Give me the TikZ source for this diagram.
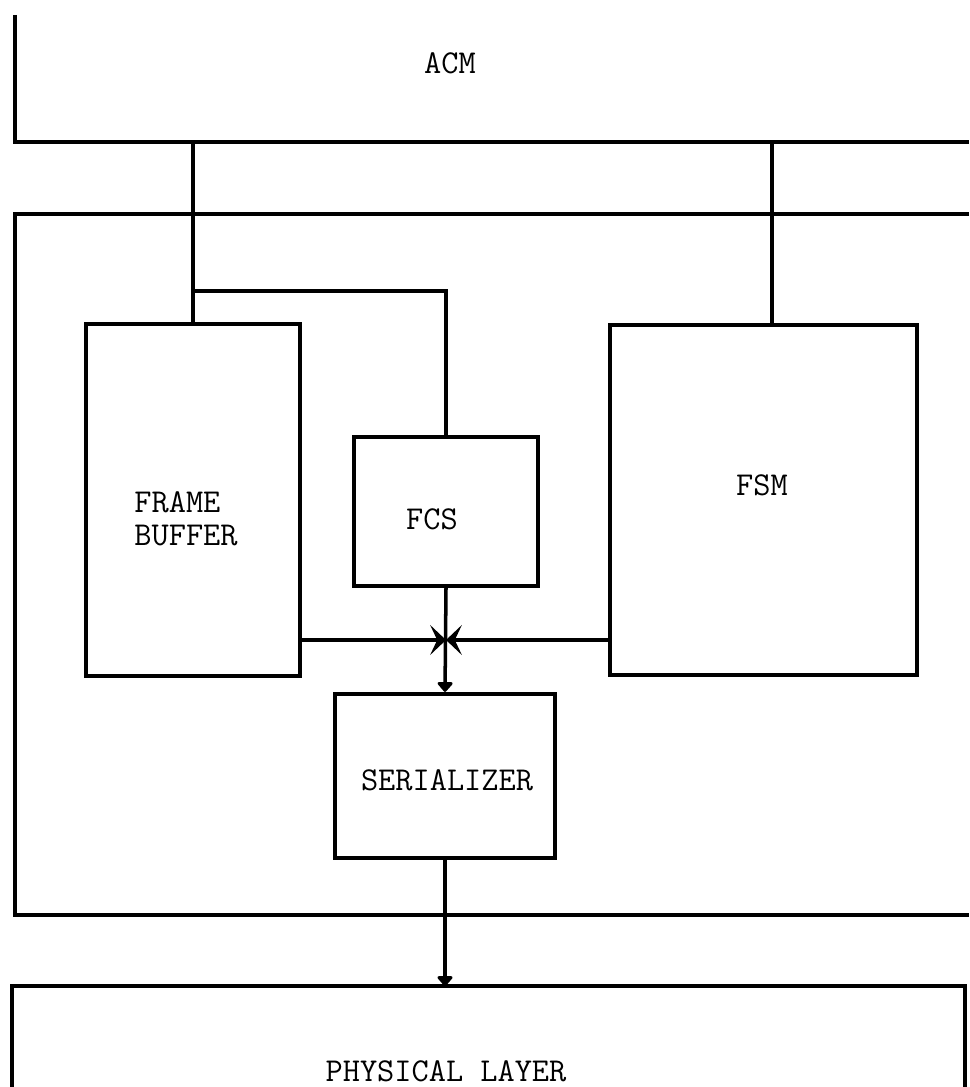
\documentclass[tikz,border=0pt]{standalone}
\usepackage{fontspec}
\usetikzlibrary{arrows.meta}

\begin{document}
\begin{tikzpicture}[x=0.02cm, y=-0.02cm,
    box/.style={draw, rectangle, line width=2.4pt, inner sep=0pt},
    layer/.style={line width=2.4pt},
    tag/.style={font=\ttfamily\fontsize{19}{18.5}\selectfont, align=left, inner sep=0pt},
    wire/.style={line width=2pt},
    blob/.style={wire, -{Triangle[round, length=6pt, width=10pt]}},
    bow/.style={wire, -{Stealth[length=9pt, width=17pt, inset=4pt]}}
  ]
  \useasboundingbox (0,0) rectangle (969,1087);

  % layers
  \draw[layer] (15,15) -- (15,142) -- (969,142);
  \draw[layer] (969,214) -- (15,214) -- (15,915) -- (969,915);
  \draw[layer] (12,1087) -- (12,986) -- (965,986) -- (965,1087);
  \node[tag] (acm) at (450,63) {ACM};
  \node[tag] (phy) at (446,1071) {PHYSICAL LAYER};

  % blocks
  \node[box, minimum width=4.28cm, minimum height=7.04cm] (fb) at (193,500) {};
  \node[box, minimum width=3.68cm, minimum height=2.98cm] (fcs) at (446,511.5) {};
  \node[box, minimum width=6.14cm, minimum height=7cm] (fsm) at (763.5,500) {};
  \node[box, minimum width=4.4cm, minimum height=3.28cm] (ser) at (445,776) {};

  \node[tag] (fbtext) at (186,519) {FRAME\\BUFFER};
  \node[tag] (fcstext) at (432,519) {FCS};
  \node[tag] (fsmtext) at (762,485) {FSM};
  \node[tag] (sertext) at (447,780) {SERIALIZER};

  % connectors
  \coordinate (acmfb) at (fb.north |- 0,142);
  \coordinate (acmfsm) at (772,142);
  \coordinate (split) at (fb.north |- 0,291);
  \coordinate (jn) at (fcs.south |- 0,640);
  \coordinate (phys) at (ser.south |- 0,986);

  \draw[wire] (acmfb) -- (fb.north);
  \draw[wire] (split) -| (fcs.north);
  \draw[wire] (acmfsm) -- (acmfsm |- fsm.north);
  \draw[blob] (fcs.south) -- (ser.north);
  \draw[bow] (fb.east |- jn) -- (jn);
  \draw[bow] (fsm.west |- jn) -- (jn);
  \draw[blob] (ser.south) -- (phys);
\end{tikzpicture}
\end{document}
